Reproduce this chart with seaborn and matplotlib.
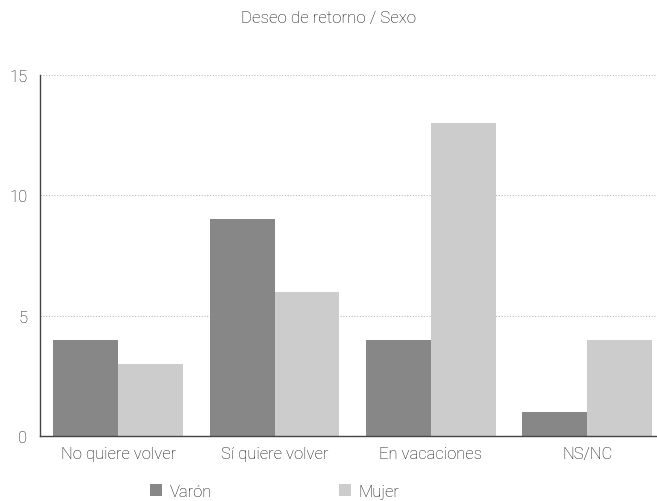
import matplotlib
matplotlib.use("Agg")
import matplotlib.pyplot as plt
import seaborn as sns
import pandas as pd

categorias = ["No quiere volver", "Sí quiere volver", "En vacaciones", "NS/NC"]
varon = [4, 9, 4, 1]
mujer = [3, 6, 13, 4]
series = ["Varón", "Mujer"]
colores = ["#878787", "#cccccc"]

df = pd.DataFrame({
    "categoria": categorias * 2,
    "valor": varon + mujer,
    "sexo": [series[0]] * len(categorias) + [series[1]] * len(categorias),
})

sns.set_style("white")
plt.rcParams["font.family"] = ["Roboto", "DejaVu Sans"]
plt.rcParams["font.weight"] = "light"

fig = plt.figure(figsize=(6.57, 5.02), dpi=100)
ax = fig.add_axes([0.0609, 0.1295, 0.94, 0.7191])

sns.barplot(data=df, x="categoria", y="valor", hue="sexo", order=categorias,
            hue_order=series, palette=colores, width=0.83, saturation=1,
            edgecolor="none", linewidth=0, ax=ax)

ax.set_xlim(-0.5, 3.45)
ax.set_ylim(0, 15)
ax.set_yticks([0, 5, 10, 15])
ax.yaxis.grid(True, linestyle=(0, (1, 1.5)), color="#bbbbbb", linewidth=0.8)
ax.set_axisbelow(True)
for s in ["top", "right"]:
    ax.spines[s].set_visible(False)
ax.spines["left"].set_color("#444444")
ax.spines["bottom"].set_color("#444444")
ax.spines["left"].set_linewidth(1.0)
ax.spines["bottom"].set_linewidth(1.0)
ax.tick_params(axis="both", length=0, labelsize=12, colors="#111111")
ax.tick_params(axis="y", pad=9)
ax.tick_params(axis="x", pad=7)
ax.set_xlabel("")
ax.set_ylabel("")

fig.suptitle("Deseo de retorno / Sexo", x=0.5, y=0.978, fontsize=12.2,
             color="#111111", fontweight="light")

leg = ax.legend(loc="center", bbox_to_anchor=(0.38, -0.153), ncol=2, frameon=False,
                fontsize=12, handlelength=0.75, handleheight=0.75,
                columnspacing=7.6, handletextpad=0.45, borderpad=0.2)
for t in leg.get_texts():
    t.set_color("#111111")

fig.savefig("out.png", dpi=100)
